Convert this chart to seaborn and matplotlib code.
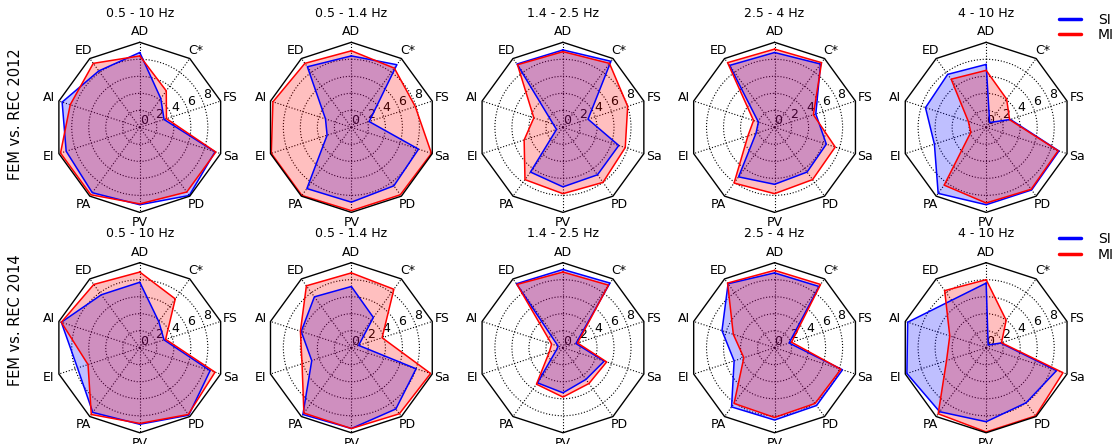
import numpy as np
import pandas as pd
import matplotlib.pyplot as plt
from matplotlib.lines import Line2D
import seaborn as sns

# Axis labels, clockwise from the top
LABELS = ['AD', 'C*', 'FS', 'Sa', 'PD', 'PV', 'PA', 'EI', 'AI', 'ED']
BANDS = ['0.5 - 10 Hz', '0.5 - 1.4 Hz', '1.4 - 2.5 Hz', '2.5 - 4 Hz', '4 - 10 Hz']
ROWS = ['FEM vs. REC 2012', 'FEM vs. REC 2014']
SERIES = ['SI', 'MI']
RTICKS = [0, 2, 4, 6, 8]

# FEM vs. REC 2012
si_2012 = [
    [8.8, 4.2, 3.0, 9.3, 9.9, 9.1, 9.5, 9.1, 9.6, 8.2],
    [8.4, 9.1, 2.2, 8.3, 8.5, 8.8, 8.9, 3.0, 3.2, 8.8],
    [9.1, 9.6, 3.1, 6.9, 6.9, 7.0, 6.5, 0.8, 1.2, 9.2],
    [8.8, 9.2, 5.1, 6.4, 6.5, 6.7, 7.2, 2.3, 2.0, 9.0],
    [7.4, 0.7, 3.0, 9.0, 9.1, 9.1, 9.6, 6.4, 7.5, 7.7],
]
mi_2012 = [
    [8.4, 5.3, 3.3, 9.4, 9.4, 9.0, 9.8, 9.8, 8.6, 9.3],
    [9.0, 8.6, 7.9, 9.9, 9.8, 9.8, 9.9, 9.9, 9.7, 9.3],
    [8.9, 9.3, 8.0, 7.7, 8.0, 7.8, 7.6, 4.8, 3.6, 9.1],
    [9.2, 9.4, 4.8, 7.5, 7.6, 7.8, 8.1, 3.3, 2.6, 9.4],
    [6.7, 4.1, 2.9, 8.9, 9.0, 8.9, 8.4, 1.9, 2.2, 7.0],
]

# FEM vs. REC 2014
si_2014 = [
    [7.7, 3.8, 3.0, 8.7, 9.8, 9.0, 9.4, 7.7, 9.7, 7.7],
    [7.2, 4.4, 0.9, 8.0, 8.9, 9.5, 9.7, 4.9, 6.2, 7.4],
    [9.2, 9.4, 1.6, 5.1, 4.6, 5.3, 5.1, 0.8, 0.6, 9.3],
    [8.8, 8.9, 1.8, 8.4, 8.4, 8.5, 8.6, 5.0, 6.5, 9.3],
    [7.6, 0.4, 1.8, 8.7, 8.0, 8.7, 9.3, 9.8, 9.7, 6.9],
]
mi_2014 = [
    [8.9, 7.1, 3.2, 9.3, 9.7, 8.9, 9.7, 6.4, 9.7, 9.2],
    [8.8, 8.5, 3.8, 9.8, 9.6, 9.5, 9.5, 6.1, 6.3, 9.0],
    [8.9, 9.1, 1.8, 5.4, 5.2, 5.8, 5.3, 1.7, 1.4, 9.2],
    [9.1, 9.2, 2.1, 8.2, 8.1, 8.2, 8.1, 3.8, 5.1, 9.4],
    [8.0, 4.0, 1.9, 9.5, 9.9, 9.9, 9.6, 4.9, 4.5, 8.3],
]

COLORS = {'SI': '#0000ff', 'MI': '#ff0000'}
RMAX = 10

sns.set_style('white')
plt.rcParams['font.family'] = ['DejaVu Sans']
plt.rcParams['text.color'] = 'black'
plt.rcParams['xtick.color'] = 'black'
plt.rcParams['ytick.color'] = 'black'

theta = np.linspace(0, 2 * np.pi, len(LABELS), endpoint=False)
theta_closed = np.append(theta, 2 * np.pi)

fig, axes = plt.subplots(2, 5, figsize=(11.17, 4.44), dpi=100,
                         subplot_kw={'projection': 'polar'})
fig.subplots_adjust(left=0.049, right=0.959, top=0.905, bottom=0.025,
                    wspace=0.244, hspace=0.294)

data_rows = [(si_2012, mi_2012), (si_2014, mi_2014)]

for r, (si_row, mi_row) in enumerate(data_rows):
    for c, band in enumerate(BANDS):
        ax = axes[r, c]
        ax.set_theta_zero_location('N')
        ax.set_theta_direction(-1)

        for name, values in zip(SERIES, [si_row[c], mi_row[c]]):
            df = pd.DataFrame({'theta': theta_closed,
                               'value': values + values[:1]})
            sns.lineplot(data=df, x='theta', y='value', sort=False, estimator=None,
                         color=COLORS[name], lw=1.1, ax=ax, legend=False)
            ax.fill(df['theta'], df['value'], color=COLORS[name], alpha=0.25, lw=0)

        # decagon frame
        ax.plot(theta_closed, [RMAX] * len(theta_closed), color='k', lw=1.0,
                clip_on=False)
        ax.spines['polar'].set_visible(False)

        ax.set_ylim(0, RMAX)
        ax.set_rgrids(RTICKS, labels=[str(t) for t in RTICKS], fontsize=9)
        ax.set_rlabel_position(67.5)
        ax.set_thetagrids(np.degrees(theta), LABELS, fontsize=9)
        ax.tick_params(axis='x', pad=-3)
        ax.grid(True, color='k', linestyle=':', linewidth=0.8)
        ax.set_xlabel('')
        ax.set_ylabel('')
        ax.set_title(band, fontsize=9, y=1.1)

# row labels
fig.text(0.0143, 0.742, ROWS[0], rotation=90, ha='center', va='center', fontsize=10.5)
fig.text(0.0143, 0.279, ROWS[1], rotation=90, ha='center', va='center', fontsize=10.5)

# legends
handles = [Line2D([], [], color=COLORS[s], lw=2.5) for s in SERIES]
for y in [1.0, 0.505]:
    fig.legend(handles, SERIES, loc='upper left', bbox_to_anchor=(0.937, y),
               frameon=False, fontsize=10, handlelength=1.6, handletextpad=1.2,
               labelspacing=0.1, borderpad=0.4)

fig.savefig('out.png', dpi=100)
